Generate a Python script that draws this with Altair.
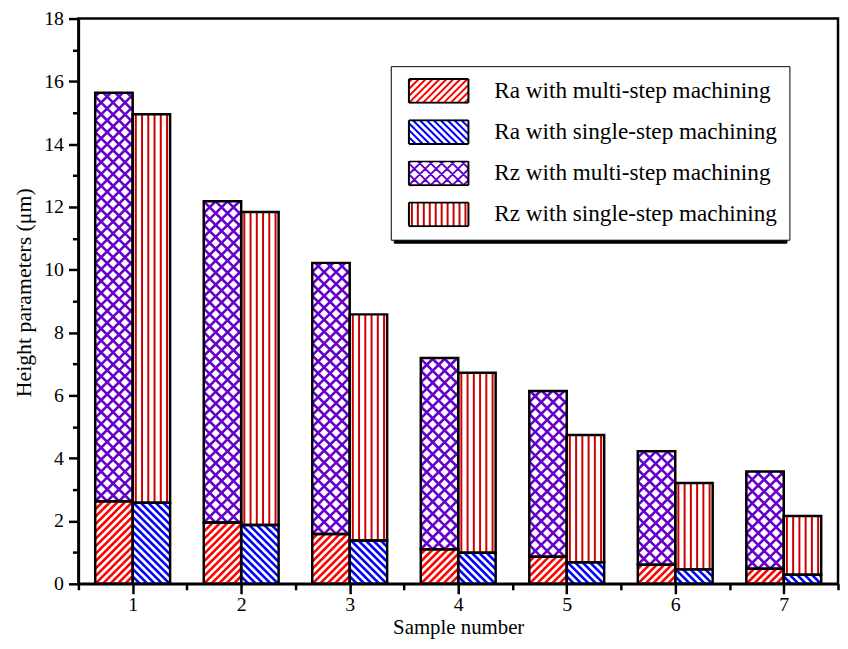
import math
import altair as alt
import pandas as pd

# ---------------- data ----------------
samples = [1, 2, 3, 4, 5, 6, 7]
ra_multi = [2.63, 1.95, 1.59, 1.10, 0.86, 0.61, 0.48]
ra_single = [2.58, 1.87, 1.38, 0.99, 0.69, 0.46, 0.29]
rz_multi = [15.64, 12.18, 10.22, 7.19, 6.14, 4.22, 3.58]
rz_single = [14.95, 11.84, 8.58, 6.72, 4.74, 3.21, 2.16]

series = [
    "Ra with multi-step machining",
    "Ra with single-step machining",
    "Rz with multi-step machining",
    "Rz with single-step machining",
]
colors = ["#ff0000", "#0000ff", "#6600cc", "#cc0000"]

x_ticks = samples
x_minor = [0.5, 1.5, 2.5, 3.5, 4.5, 5.5, 6.5, 7.5]
y_ticks = [0, 2, 4, 6, 8, 10, 12, 14, 16, 18]
y_minor = [1, 3, 5, 7, 9, 11, 13, 15, 17]

# ---------------- layout ----------------
FONT = "Liberation Serif"
W, H = 766, 570
XDOM = [0.5, 7.5]
YDOM = [0, 18]
BAR = 0.345
SX = W / (XDOM[1] - XDOM[0])
SY = H / (YDOM[1] - YDOM[0])

# hatch style per series: kind, spacing (px), line width (px)
hatch_kind = ["fwd", "back", "cross", "vert"]
hatch_period = [7.5, 7.5, 12.0, 6.3]
hatch_width = [2.6, 2.6, 2.6, 2.0]
legend_period = [7.0, 7.0, 11.0, 6.0]


def hatch_lines(kind, w, h, p):
    segs = []
    if kind in ("fwd", "cross"):
        for k in range(math.ceil(-h / p), math.floor(w / p) + 1):
            c = k * p
            lo, hi = max(0.0, c), min(w, h + c)
            if hi - lo > 0.4:
                segs.append((lo, lo - c, hi, hi - c))
    if kind in ("back", "cross"):
        for k in range(0, math.floor((w + h) / p) + 1):
            c = k * p
            lo, hi = max(0.0, c - h), min(w, c)
            if hi - lo > 0.4:
                segs.append((lo, c - lo, hi, c - hi))
    if kind == "vert":
        c = p / 2
        while c < w - 0.5:
            segs.append((c, 0.0, c, h))
            c += p
    return segs


# bars (Ra from 0, Rz drawn above the Ra part)
rows = []
for s, a1, a2, z1, z2 in zip(samples, ra_multi, ra_single, rz_multi, rz_single):
    rows.append(dict(series=series[0], sample=s, x0=s - BAR, x1=s, y0=0.0, y1=a1))
    rows.append(dict(series=series[1], sample=s, x0=s, x1=s + BAR, y0=0.0, y1=a2))
    rows.append(dict(series=series[2], sample=s, x0=s - BAR, x1=s, y0=a1, y1=z1))
    rows.append(dict(series=series[3], sample=s, x0=s, x1=s + BAR, y0=a2, y1=z2))
bars = pd.DataFrame(rows)

# hatch segments, computed in pixel space from the bar extents
seg_rows = []
for _, b in bars.iterrows():
    i = series.index(b.series)
    w = (b.x1 - b.x0) * SX
    h = (b.y1 - b.y0) * SY
    for u1, v1, u2, v2 in hatch_lines(hatch_kind[i], w, h, hatch_period[i]):
        seg_rows.append(dict(series=b.series,
                             x0=b.x0 + u1 / SX, y0=b.y0 + v1 / SY,
                             x1=b.x0 + u2 / SX, y1=b.y0 + v2 / SY))
segs = pd.DataFrame(seg_rows)


# legend swatch paths (unit = 12 px, swatch 60 x 24 px)
def swatch_path(kind, p):
    parts = []
    for u1, v1, u2, v2 in hatch_lines(kind, 60.0, 24.0, p):
        parts.append("M%.3f,%.3fL%.3f,%.3f" % ((u1 - 12) / 12, (12 - v1) / 12,
                                              (u2 - 12) / 12, (12 - v2) / 12))
    return "".join(parts)


hatch_paths = [swatch_path(k, p) for k, p in zip(hatch_kind, legend_period)]
border_path = "M-1,-1L4,-1L4,1L-1,1Z"

# ---------------- chart ----------------
xs = alt.Scale(domain=XDOM, nice=False, zero=False)
ys = alt.Scale(domain=YDOM, nice=False, zero=False)

main_x = alt.Axis(values=x_ticks, orient="bottom", title="Sample number",
                  tickSize=10, labelPadding=0.5, labelFlush=False, format="d",
                  titlePadding=2.8, titleFontSize=21)
minor_x = alt.Axis(values=x_minor, orient="bottom", tickSize=6, labels=False,
                   domain=False, title=None)
main_y = alt.Axis(values=y_ticks, orient="left", title="Height parameters (μm)",
                  tickSize=10, labelPadding=5, labelFlush=False, format="d",
                  titlePadding=8, titleY=276, titleFontSize=22)
minor_y = alt.Axis(values=y_minor, orient="left", tickSize=6, labels=False,
                   domain=False, title=None)

LX, LY = 315, 48
leg_common = dict(orient="none", direction="vertical", title=None,
                  labelFont=FONT, labelFontSize=23.4, labelColor="black", labelLimit=500,
                  symbolSize=576, symbolStrokeWidth=2, symbolOffset=5.3,
                  rowPadding=15.5, padding=12, clipHeight=26)

layers = []

# shadow of the legend box (a filled copy of the legend box, offset down-right)
shadow = alt.Chart(bars).transform_filter("false").mark_point(
    filled=False, opacity=1, strokeWidth=2, color="black"
).encode(
    x=alt.X("x0:Q", scale=xs, axis=None),
    y=alt.Y("y0:Q", scale=ys, axis=None),
    size=alt.Size(
        "series:O",
        scale=alt.Scale(domain=["#" + s for s in series], range=[576, 576, 576, 576]),
        legend=alt.Legend(legendX=LX + 3, legendY=LY + 3, fillColor="black",
                          strokeColor="black", symbolType=border_path,
                          labelExpr="''", labelOffset=340, **leg_common),
    ),
)
layers.append(shadow)

for i, s in enumerate(series):
    layers.append(
        alt.Chart(segs).transform_filter(alt.datum.series == s).mark_rule(
            color=colors[i], strokeWidth=hatch_width[i]
        ).encode(
            x=alt.X("x0:Q", scale=xs, axis=None), x2="x1:Q",
            y=alt.Y("y0:Q", scale=ys, axis=None), y2="y1:Q",
        )
    )

outline = alt.Chart(bars).mark_rect(
    fill="white", fillOpacity=0, stroke="black", strokeWidth=2.5
).encode(
    x=alt.X("x0:Q", scale=xs, axis=main_x), x2="x1:Q",
    y=alt.Y("y0:Q", scale=ys, axis=main_y), y2="y1:Q",
)
layers.append(outline)

hatch_legend = alt.Legend(legendX=LX, legendY=LY, fillColor="white",
                          strokeColor="black", labelOffset=61, **leg_common)
legend_hatch = alt.Chart(bars).transform_filter("false").mark_point(
    filled=False, opacity=1, strokeWidth=2
).encode(
    x=alt.X("x0:Q", scale=xs, axis=None),
    y=alt.Y("y0:Q", scale=ys, axis=None),
    color=alt.Color("series:N", scale=alt.Scale(domain=series, range=colors),
                    legend=hatch_legend),
    shape=alt.Shape("series:N", scale=alt.Scale(domain=series, range=hatch_paths),
                    legend=hatch_legend),
)
layers.append(legend_hatch)

legend_border = alt.Chart(bars).transform_filter("false").mark_point(
    filled=False, opacity=1, strokeWidth=2, color="black"
).encode(
    x=alt.X("x0:Q", scale=xs, axis=None),
    y=alt.Y("y0:Q", scale=ys, axis=None),
    strokeDash=alt.StrokeDash(
        "series:N",
        scale=alt.Scale(domain=["%" + s for s in series], range=[[1, 0]] * 4),
        legend=alt.Legend(legendX=LX, legendY=LY, symbolType=border_path,
                          symbolStrokeColor="black", symbolFillColor="transparent",
                          labelExpr="''", labelOffset=61, **leg_common),
    ),
)
layers.append(legend_border)

minor = alt.Chart(bars).transform_filter("false").mark_point(opacity=0).encode(
    x=alt.X("x0:Q", scale=xs, axis=minor_x),
    y=alt.Y("y0:Q", scale=ys, axis=minor_y),
)
layers.append(minor)

chart = alt.layer(*layers).resolve_axis(
    x="independent", y="independent"
).properties(
    width=W, height=H,
    autosize=alt.AutoSizeParams(type="none"),
    padding={"left": 71, "top": 8, "right": 2, "bottom": 55},
    background="white",
).configure_view(
    stroke="black", strokeWidth=2.5
).configure_axis(
    labelFont=FONT, labelFontSize=20, labelColor="black",
    titleFont=FONT, titleFontWeight="normal", titleColor="black",
    tickWidth=2.5, tickColor="black", domainColor="black", domainWidth=2.5,
    grid=False,
)

chart.save("out.html", embed_options={"renderer": "svg", "actions": False})
